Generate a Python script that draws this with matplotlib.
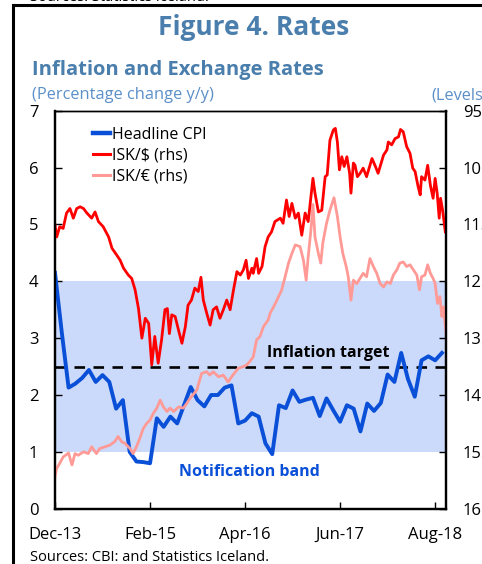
import numpy as np
import matplotlib.pyplot as plt
from matplotlib.lines import Line2D

plt.rcParams['font.family'] = ['Open Sans', 'DejaVu Sans']

# months since Dec-13
cpi = [4.15, 3.1, 2.13, 2.2, 2.3, 2.44, 2.23, 2.35, 2.23, 1.76, 1.91, 1.0, 0.83, 0.82, 0.80,
       1.59, 1.44, 1.62, 1.50, 1.82, 2.14, 1.91, 1.80, 2.0, 2.0, 2.13, 2.17, 1.5, 1.55, 1.68,
       1.62, 1.15, 0.96, 1.82, 1.77, 2.08, 1.88, 1.92, 1.95, 1.63, 1.94, 1.73, 1.53, 1.82,
       1.76, 1.36, 1.85, 1.72, 1.86, 2.36, 2.23, 2.74, 2.28, 1.97, 2.61, 2.68, 2.61, 2.74]
cpi_t = list(range(len(cpi)))

usd_t = [0.0, 0.25, 0.7, 1.2, 1.7, 2.2, 2.7, 3.2, 3.7, 4.2, 4.7, 5.4, 5.9, 6.4, 7.1, 7.9, 8.4,
         9.1, 9.6, 10.1, 10.8, 11.3, 11.8, 12.3, 12.8, 13.3, 13.8, 14.25, 14.7, 15.2, 15.7,
         16.2, 16.55, 16.85, 17.2, 17.7, 18.2, 18.7, 19.2, 19.6, 20.1, 20.6, 21.1, 21.5,
         21.85, 22.35, 22.85, 23.3, 23.8, 24.3, 24.8, 25.3, 25.8, 26.3, 26.8, 27.3, 27.75,
         28.15, 28.5, 29.0, 29.2, 29.7, 30.0, 30.5, 30.95, 31.4, 31.9, 32.4, 33.2, 33.6,
         34.1, 34.5, 34.9, 35.4, 35.85, 36.35, 36.85, 37.3, 38.0, 38.3, 38.8, 39.3, 39.8,
         40.1, 40.5, 41.0, 41.3, 41.6, 41.9, 42.25, 42.6, 43.0, 43.4, 43.6, 43.96, 44.2,
         44.55, 44.95, 45.4, 45.9, 46.7, 47.2, 47.6, 48.4, 48.9, 49.1, 49.6, 50.1, 50.6,
         50.9, 51.3, 51.8, 52.3, 52.7, 53.05, 53.5, 53.8, 54.0, 54.5, 54.9, 55.3, 55.7,
         56.0, 56.3, 56.6, 56.8, 57.1, 57.5]
usd = [115.1, 117.2, 115.4, 115.7, 113.0, 112.2, 113.9, 112.2, 111.9, 112.2, 113.0, 113.9,
       112.8, 114.5, 115.4, 117.2, 119.2, 120.4, 121.3, 122.7, 123.9, 124.5, 126.5, 129.8,
       135.0, 131.5, 132.4, 139.7, 134.7, 139.4, 135.3, 130.0, 129.8, 134.2, 130.9, 131.2,
       133.6, 135.9, 133.0, 129.2, 128.3, 126.2, 126.8, 124.3, 128.3, 130.6, 132.7, 130.0,
       129.5, 131.5, 130.0, 128.3, 130.0, 126.5, 123.3, 123.9, 123.0, 121.3, 124.5, 122.7,
       123.6, 121.0, 123.6, 122.4, 118.9, 117.2, 116.3, 114.5, 113.9, 114.8, 110.7, 113.6,
       111.3, 113.9, 113.0, 116.9, 113.0, 114.5, 106.9, 109.5, 112.8, 112.5, 106.6, 106.3,
       100.2, 98.4, 98.1, 100.5, 105.4, 103.1, 104.8, 103.1, 106.0, 109.5, 104.2, 104.6,
       106.6, 106.0, 105.1, 106.6, 103.4, 104.8, 106.0, 102.8, 101.9, 100.5, 101.0, 99.9,
       99.6, 98.3, 98.7, 101.3, 102.5, 105.1, 105.7, 108.4, 109.8, 106.6, 107.2, 104.6,
       108.1, 110.4, 106.9, 109.5, 113.9, 110.4, 112.5, 116.3]

eur_t = [0.0, 0.25, 0.7, 1.2, 2.0, 2.5, 2.95, 3.4, 4.2, 4.9, 5.4, 6.1, 6.6, 7.4, 8.1, 8.8,
         9.3, 9.8, 10.3, 11.05, 11.5, 12.0, 12.5, 13.0, 13.5, 14.0, 14.5, 15.0, 15.5, 15.96,
         16.5, 16.95, 17.5, 18.2, 18.9, 19.4, 19.9, 20.9, 21.6, 22.35, 22.8, 23.3, 24.1,
         24.8, 25.5, 26.2, 27.0, 27.75, 28.25, 28.7, 29.2, 29.7, 30.2, 30.7, 31.4, 31.7,
         32.2, 32.7, 33.4, 33.9, 34.4, 34.9, 35.4, 36.1, 36.6, 37.0, 37.3, 37.7, 38.0,
         38.3, 38.8, 39.15, 39.45, 40.0, 40.5, 41.1, 41.6, 42.0, 42.4, 42.9, 43.2, 43.6,
         43.96, 44.46, 45.4, 45.9, 46.4, 46.9, 47.4, 47.9, 48.4, 48.9, 49.4, 49.85, 50.35,
         50.8, 51.3, 51.8, 52.3, 52.8, 53.3, 53.7, 54.0, 54.5, 54.9, 55.3, 55.7, 56.0,
         56.35, 56.7, 57.0, 57.2, 57.7]
eur = [159.4, 157.9, 157.0, 155.9, 155.2, 157.3, 155.3, 155.6, 155.0, 155.3, 154.1, 155.3,
       154.4, 154.1, 153.8, 153.2, 152.3, 153.2, 153.5, 154.4, 155.3, 154.1, 152.6, 150.9,
       150.0, 149.4, 148.2, 147.3, 145.9, 147.1, 147.9, 147.3, 147.9, 147.1, 147.3, 146.5,
       145.6, 144.1, 141.2, 140.9, 141.5, 140.9, 141.8, 141.5, 142.7, 141.5, 140.3, 140.0,
       139.7, 139.1, 138.3, 135.3, 134.7, 133.0, 131.8, 130.6, 129.5, 128.3, 126.5, 124.2,
       121.8, 120.1, 118.6, 118.9, 121.3, 124.8, 120.7, 116.0, 111.5, 117.2, 120.1, 121.8,
       118.3, 114.8, 112.5, 110.3, 113.6, 117.2, 120.1, 122.4, 124.2, 128.3, 124.8, 125.4,
       123.6, 124.2, 121.0, 122.4, 123.6, 125.4, 126.0, 125.1, 125.4, 123.9, 123.0, 121.8,
       121.6, 122.4, 122.1, 123.0, 123.9, 126.5, 124.2, 123.9, 122.1, 123.6, 124.5, 125.4,
       128.9, 127.7, 131.2, 129.5, 135.0]

xtick_pos = [0, 14, 28, 42, 56]
xtick_labels = ['Dec-13', 'Feb-15', 'Apr-16', 'Jun-17', 'Aug-18']

title_col = '#4a7eac'
sub_col = '#5b8fc8'
blue = '#0a4fd8'
red = '#ff0000'
pink = '#ff9a96'

fig = plt.figure(figsize=(4.82, 5.64), dpi=100)
ax = fig.add_axes([0.1141, 0.098, 0.8112, 0.7057])
ax2 = ax.twinx()

ax.axhspan(1, 4, color='#cbdafa', lw=0, zorder=0)
ax.axhline(2.5, color='black', lw=1.9, dashes=(4, 3.2), zorder=1)
ax.plot(cpi_t, cpi, color=blue, lw=2.8, zorder=3)
ax.text(31.2, 2.74, 'Inflation target', fontsize=11.5, fontweight='bold', va='center')
ax.text(18.3, 0.65, 'Notification band', fontsize=11.5, fontweight='bold', color=blue,
        va='center')

ax2.plot(eur_t, eur, color=pink, lw=2.0)
ax2.plot(usd_t, usd, color=red, lw=2.0)

ax.set_xlim(0, 57.6)
ax.set_ylim(0, 7)
ax2.set_ylim(165, 95)
ax.set_yticks(range(0, 8))
ax2.set_yticks(range(95, 166, 10))
ax.set_xticks(xtick_pos)
ax.set_xticklabels(xtick_labels)

ax.tick_params(axis='y', direction='in', length=5, width=1, labelsize=12, pad=12)
ax.tick_params(axis='x', direction='in', length=5, width=1, labelsize=12, pad=13)
ax2.tick_params(axis='y', direction='in', length=5, width=1, labelsize=12, pad=12)
for a in (ax, ax2):
    for s in ['left', 'bottom', 'right']:
        a.spines[s].set_linewidth(1.6)
    a.spines['top'].set_linewidth(1.0)

handles = [Line2D([], [], color=blue, lw=3.2),
           Line2D([], [], color=red, lw=2.2),
           Line2D([], [], color=pink, lw=2.2)]
ax2.legend(handles, ['Headline CPI', 'ISK/$ (rhs)', 'ISK/€ (rhs)'], loc='upper left',
           bbox_to_anchor=(0.06, 0.995), frameon=False, fontsize=11.5, handlelength=1.1,
           handletextpad=0.1, labelspacing=0.3)

fig.text(0.527, 0.952, 'Figure 4. Rates', fontsize=19, fontweight='bold', color=title_col,
         ha='center', va='center')
fig.text(0.066, 0.876, 'Inflation and Exchange Rates', fontsize=14.5, fontweight='bold',
         color=title_col, va='center')
fig.text(0.066, 0.831, '(Percentage change y/y)', fontsize=11.8, color=sub_col, va='center')
fig.text(0.896, 0.831, '(Levels)', fontsize=11.8, color=sub_col, va='center')
fig.text(0.062, 0.012, 'Sources: CBI: and Statistics Iceland.', fontsize=10.5, va='center')
fig.text(0.062, 1.004, 'Sources: Statistics Iceland.', fontsize=10.5, va='center')

fig.add_artist(Line2D([0.027, 0.027], [0, 0.991], color='black', lw=2.2))
fig.add_artist(Line2D([0.027, 1], [0.991, 0.991], color='black', lw=2.2))

fig.savefig('out.png', dpi=100)
